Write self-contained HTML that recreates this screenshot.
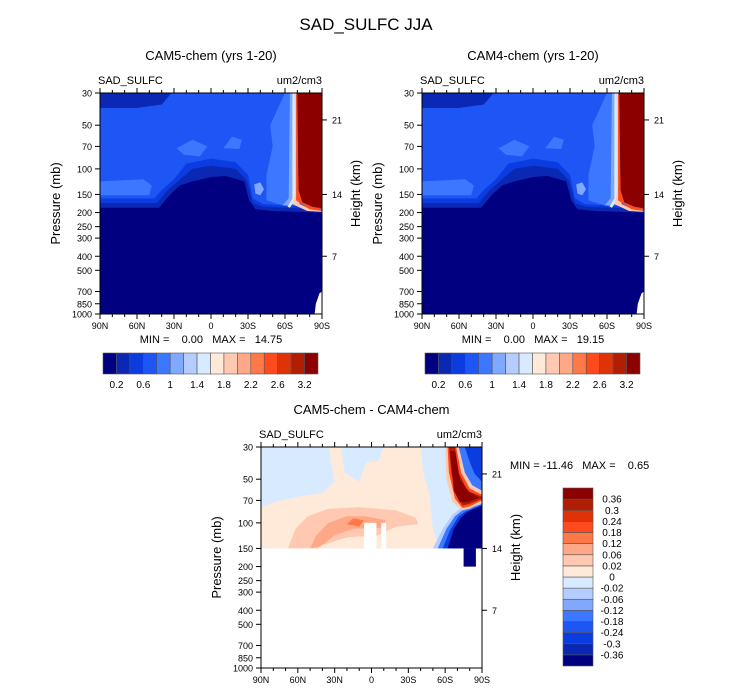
<!DOCTYPE html>
<html><head><meta charset="utf-8">
<style>
body{margin:0;background:#fff;}
svg{display:block;font-family:"Liberation Sans",sans-serif;}
text{white-space:pre;}
</style></head>
<body>
<svg id="chart" width="733" height="692" viewBox="0 0 733 692"></svg>
<script>
// ---- data ----
const colors = ['#000080','#0a28b4','#0a3ce0','#1e55f5','#3c78ff','#80a8ff','#b4ccff','#d8eaff','#ffeada','#ffc8b0','#ffa888','#ff7848','#ff4a1e','#e03208','#b01e04','#8c0000'];
const absLevelLabels = ['0.2','0.6','1','1.4','1.8','2.2','2.6','3.2'];
const diffLevelLabels = ['0.36','0.3','0.24','0.18','0.12','0.06','0.02','0','-0.02','-0.06','-0.12','-0.18','-0.24','-0.3','-0.36'];
const pressureTicks = [30,50,70,100,150,200,250,300,400,500,700,850,1000];
const heightTicks = [[21,46],[14,150],[7,400]];
const latTicks = [90,60,30,0,-30,-60,-90];
const latLabels = ['90N','60N','30N','0','30S','60S','90S'];
// regions: [level, [[lat,p],...]]
const absRegions = [
 [0, [[90,30],[-90,30],[-90,1000],[90,1000]]],
 [1, [[90,30],[-90,30],[-90,200],[-50,195],[-36,190],[-31,165],[-27,122],[-12,112],[0,114],[15,122],[25,130],[33,150],[42,185],[90,185]]],
 [2, [[90,30],[-90,30],[-90,190],[-42,182],[-34,172],[-29,120],[-20,100],[0,95],[15,100],[25,118],[35,140],[44,172],[90,172]]],
 [3, [[90,38],[60,38],[40,36],[32,30],[-90,30],[-90,185],[-42,175],[-34,160],[-30,110],[-20,90],[0,85],[20,92],[30,118],[40,140],[46,160],[90,160]]],
 [1, [[90,30],[32,30],[40,36],[60,38],[90,38]]],
 [4, [[28,72],[15,63],[3,70],[9,82],[22,80]]],
 [4, [[-10,72],[-17,60],[-25,63],[-23,73]]],
 [4, [[90,122],[55,118],[48,130],[50,152],[90,152]]],
 [5, [[-35,128],[-40,124],[-43,138],[-40,152],[-36,148]]],
 [4, [[-48,50],[-60,30],[-64,30],[-64,170],[-58,178],[-45,165],[-45,110],[-50,70]]],
 [5, [[-64,30],[-66,30],[-67,165],[-62,180],[-58,178],[-63,160]]],
 [7, [[-66,30],[-68,30],[-69,160],[-64,185],[-62,182],[-66,160]]],
 [9, [[-68,30],[-69,30],[-70,150],[-72,175],[-80,188],[-90,195],[-90,198],[-78,195],[-66,175],[-68,150]]],
 [12,[[-69,30],[-70,30],[-71,140],[-74,170],[-82,182],[-90,188],[-90,195],[-80,190],[-69,165],[-69,140]]],
 [15,[[-70,30],[-90,30],[-90,186],[-82,182],[-74,170],[-71,140]]]
];
const absBlank = [[-75,1000],[-84,1000],[-85,850],[-88,720],[-90,700],[-90,1000]];
const diffRegions = [
 [7, [[90,30],[-90,30],[-90,150],[90,150]]],
 [8, [[90,150],[90,78],[80,72],[60,66],[40,62],[30,52],[35,30],[25,30],[22,45],[10,52],[4,38],[-5,38],[-10,30],[-40,30],[-42,45],[-47,62],[-50,110],[-55,150]]],
 [9, [[68,150],[62,110],[52,90],[35,80],[10,78],[-20,82],[-36,92],[-38,102],[-20,106],[-5,122],[20,126],[40,142],[44,150]]],
 [10,[[50,150],[45,122],[35,100],[20,90],[5,90],[-12,96],[-8,108],[15,110],[30,122],[42,146]]],
 [11,[[20,102],[15,93],[6,96],[10,106]]],
 [6, [[-50,150],[-58,110],[-66,88],[-72,80],[-78,78],[-90,72],[-90,150]]],
 [4, [[-54,150],[-61,110],[-68,90],[-74,82],[-90,74],[-90,150]]],
 [2, [[-58,150],[-64,112],[-71,90],[-76,84],[-90,75],[-90,150]]],
 [0, [[-62,150],[-67,110],[-73,92],[-78,84],[-90,76],[-90,150]]],
 [0, [[-75,150],[-85,150],[-85,200],[-75,200]]],
 [9, [[-60,30],[-71,30],[-76,45],[-82,55],[-90,60],[-90,72],[-80,80],[-74,82],[-66,72],[-61,50]]],
 [12,[[-62,30],[-69,30],[-73,45],[-80,58],[-90,64],[-90,70],[-80,77],[-74,79],[-68,68],[-63,45]]],
 [14,[[-63,30],[-68,30],[-71,45],[-78,60],[-90,66],[-90,68],[-80,74],[-74,76],[-69,64],[-65,45]]],
 [15,[[-64,32],[-68,32],[-72,50],[-80,62],[-88,67],[-78,72],[-72,72],[-67,60]]],
 [4, [[-71,30],[-90,30],[-90,60],[-82,55],[-76,45]]],
 [2, [[-76,30],[-90,30],[-90,52],[-84,46],[-80,38]]]
];
const diffWhite = [[[6,100],[-4,100],[-4,150],[6,150]],[[-8,100],[-12,100],[-12,150],[-8,150]]];

// ---- drawing ----
const svg = document.getElementById('chart');
const NS='http://www.w3.org/2000/svg';
function mk(tag, attrs, parent, text){
  const e=document.createElementNS(NS,tag);
  for(const k in attrs) e.setAttribute(k,attrs[k]);
  if(text!==undefined) e.textContent=text;
  (parent||svg).appendChild(e);
  return e;
}
function txt(x,y,s,size,anchor,parent,name){
  const t=mk('text',{x:x,y:y,'font-size':size,'text-anchor':anchor||'start',fill:'#000'},parent,s);
  
  
  return t;
}
function panel(L,T,W,H,regions,blank,whites,title,prefix){
  const g=mk('g',{});
  
  
  const xs=lat=>L+(90-lat)/180*W;
  const ys=p=>T+(Math.log(p)-Math.log(30))/(Math.log(1000)-Math.log(30))*H;
  const clipId=prefix+'-clip';
  const cp=mk('clipPath',{id:clipId},g);
  mk('rect',{x:L,y:T,width:W,height:H},cp);
  const fg=mk('g',{'clip-path':'url(#'+clipId+')'},g);
  
  
  regions.forEach(r=>{
    const pts=r[1].map(q=>xs(q[0]).toFixed(1)+','+ys(q[1]).toFixed(1)).join(' ');
    const pg=mk('polygon',{points:pts,fill:colors[r[0]]},fg);
    
    
  });
  if(blank){const pg=mk('polygon',{points:blank.map(q=>xs(q[0])+','+ys(q[1])).join(' '),fill:'#fff'},fg);
    
    }
  (whites||[]).forEach(w=>{const pg=mk('polygon',{points:w.map(q=>xs(q[0])+','+ys(q[1])).join(' '),fill:'#fff'},fg);
    
    });
  mk('rect',{x:L,y:T,width:W,height:H,fill:'none',stroke:'#000','stroke-width':1},g);
  latTicks.forEach((lat,i)=>{
    const x=xs(lat);
    mk('line',{x1:x,y1:T+H,x2:x,y2:T+H+5,stroke:'#000'},g);
    mk('line',{x1:x,y1:T,x2:x,y2:T-5,stroke:'#000'},g);
    txt(x,T+H+15,latLabels[i],9,'middle',g,'x-tick-label');
  });
  for(let lat=80;lat>-90;lat-=10){if(lat%30){const x=xs(lat);
    mk('line',{x1:x,y1:T+H,x2:x,y2:T+H+3,stroke:'#000'},g);mk('line',{x1:x,y1:T,x2:x,y2:T-3,stroke:'#000'},g);}}
  pressureTicks.forEach(p=>{const y=ys(p);
    mk('line',{x1:L-5,y1:y,x2:L,y2:y,stroke:'#000'},g);
    txt(L-8,y+3.5,String(p),9,'end',g,'y-tick-label');});
  heightTicks.forEach(h=>{const y=ys(h[1]);
    mk('line',{x1:L+W,y1:y,x2:L+W+5,y2:y,stroke:'#000'},g);
    txt(L+W+10,y+3.5,String(h[0]),9,'start',g,'height-tick-label');});
  txt(L+W/2,T-33,title,13,'middle',g,'panel-title');
  txt(L-2,T-9,'SAD_SULFC',11,'start',g,'variable-label');
  txt(L+W,T-9,'um2/cm3',11,'end',g,'units-label');
  const yl=txt(0,0,'Pressure (mb)',13,'middle',g,'y-axis-title');
  yl.setAttribute('transform','translate('+(L-40)+','+(T+H/2)+') rotate(-90)');
  const hl=txt(0,0,'Height (km)',13,'middle',g,'height-axis-title');
  hl.setAttribute('transform','translate('+(L+W+38)+','+(T+H/2-10)+') rotate(-90)');
}
function hbar(L,T,W,H,labels,name){
  const g=mk('g',{});
  
  
  const bw=W/colors.length;
  colors.forEach((c,i)=>{const r=mk('rect',{x:L+i*bw,y:T,width:bw,height:H,fill:c,stroke:'#555','stroke-width':0.6},g);
    
    });
  labels.forEach((s,i)=>{const k=(i<7)?(1+2*i):15;
    txt(L+k*bw,T+H+14,s,10,'middle',g,'colorbar-label');});
}
txt(366,30,'SAD_SULFC JJA',17,'middle',svg,'figure-title');
panel(100,93,222,221,absRegions,absBlank,null,'CAM5-chem (yrs 1-20)','cam5');
panel(422,93,222,221,absRegions,absBlank,null,'CAM4-chem (yrs 1-20)','cam4');
txt(211,343,'MIN =    0.00   MAX =   14.75',11,'middle',svg,'cam5-min-max');
txt(533,343,'MIN =    0.00   MAX =   19.15',11,'middle',svg,'cam4-min-max');
hbar(103,353,215,21,absLevelLabels,'cam5-colorbar');
hbar(425,353,215,21,absLevelLabels,'cam4-colorbar');
panel(261,447,221,221,diffRegions,null,diffWhite,'CAM5-chem - CAM4-chem','diff');
txt(510,469,'MIN = -11.46   MAX =    0.65',11,'start',svg,'diff-min-max');
(function(){
  const g=mk('g',{});
  
  
  const L=563,T=488,W=30,H=178,bh=H/colors.length;
  colors.forEach((c,i)=>{const r=mk('rect',{x:L,y:T+(colors.length-1-i)*bh,width:W,height:bh,fill:c,stroke:'#555','stroke-width':0.6},g);
    
    });
  diffLevelLabels.forEach((s,i)=>{txt(612,T+(i+1)*bh+3.5,s,10,'middle',g,'colorbar-label');});
})();
</script>
</body></html>
